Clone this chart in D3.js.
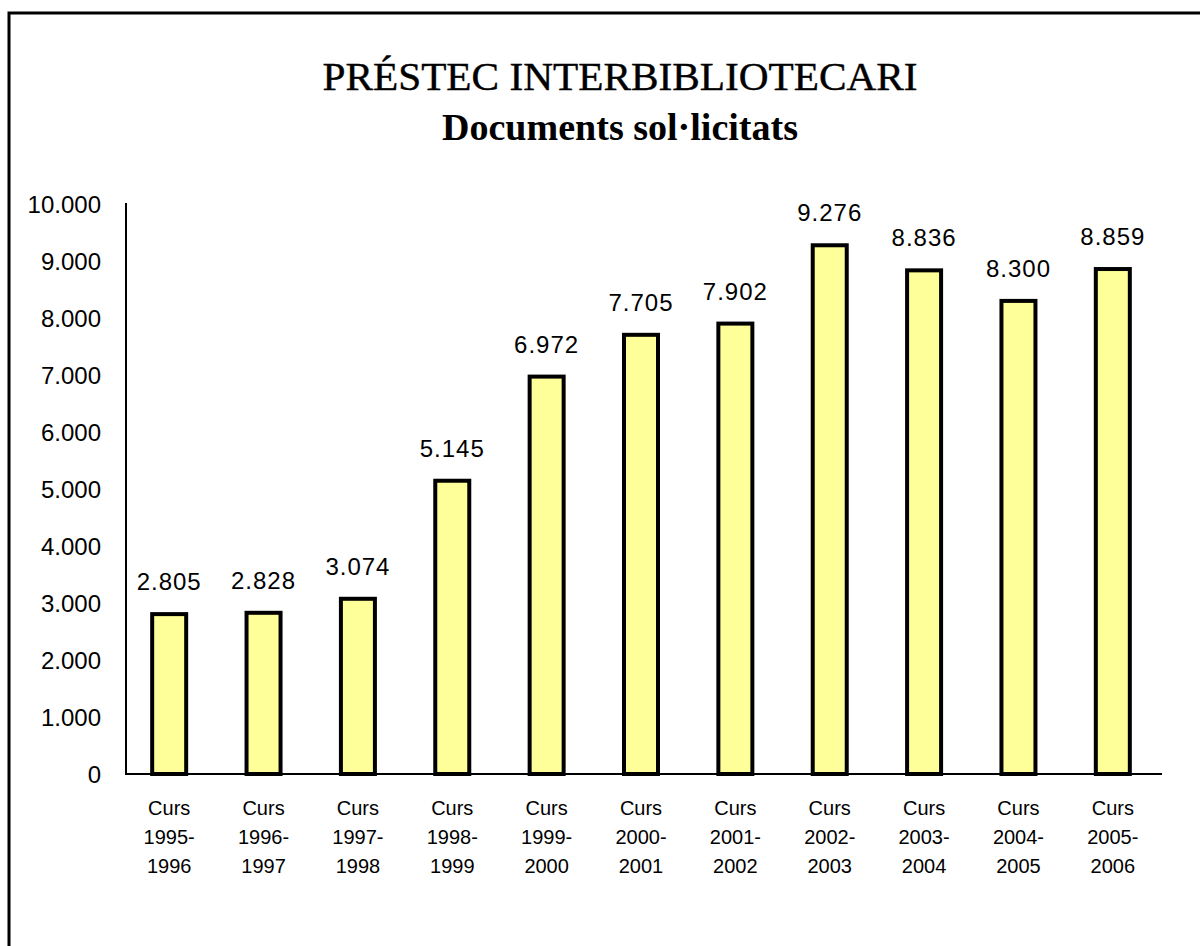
<!DOCTYPE html>
<html>
<head>
<meta charset="utf-8">
<script src="https://cdn.jsdelivr.net/npm/d3@7.9.0/dist/d3.min.js"></script>
<style>
  body { margin: 0; background: #fff; }
  svg { display: block; }
</style>
</head>
<body>
<svg id="chart" width="1200" height="946"></svg>
<script>
// chart data
const courses = ['1995-1996', '1996-1997', '1997-1998', '1998-1999', '1999-2000', '2000-2001',
  '2001-2002', '2002-2003', '2003-2004', '2004-2005', '2005-2006'];
const documents = [2805, 2828, 3074, 5145, 6972, 7705, 7902, 9276, 8836, 8300, 8859];
const yTicks = [0, 1000, 2000, 3000, 4000, 5000, 6000, 7000, 8000, 9000, 10000];

const svg = d3.select('#chart');
const sans = 'Liberation Sans, Arial, sans-serif';
const serif = 'Liberation Serif, Times New Roman, serif';

// thousands with a dot, like the original
const fmt = d => d3.format(',')(d).replace(/,/g, '.');

// frame (only top and left edges show)
svg.append('path')
  .attr('d', 'M9,946 V13 H1200')
  .attr('fill', 'none')
  .attr('stroke', '#000')
  .attr('stroke-width', 3);

// titles
svg.append('text')
  .attr('x', 620).attr('y', 90)
  .attr('text-anchor', 'middle')
  .attr('font-family', serif)
  .attr('font-size', 39)
  .attr('stroke', '#000')
  .attr('stroke-width', 0.4)
  .attr('textLength', 595)
  .attr('lengthAdjust', 'spacingAndGlyphs')
  .text('PRÉSTEC INTERBIBLIOTECARI');

svg.append('text')
  .attr('x', 620).attr('y', 140)
  .attr('text-anchor', 'middle')
  .attr('font-family', serif)
  .attr('font-weight', 'bold')
  .attr('font-size', 37)
  .attr('textLength', 356)
  .attr('lengthAdjust', 'spacingAndGlyphs')
  .text('Documents sol·licitats');

const x = d3.scaleBand()
  .domain(courses)
  .range([122, 1160]);

const y = d3.scaleLinear()
  .domain([0, 10000])
  .range([774, 204]);

const barW = 34;

// y tick labels (no tick marks)
svg.append('g')
  .selectAll('text')
  .data(yTicks)
  .join('text')
  .attr('x', 101)
  .attr('y', d => y(d))
  .attr('dy', '0.36em')
  .attr('text-anchor', 'end')
  .attr('font-family', sans)
  .attr('font-size', 24)
  .text(fmt);

// bars
svg.append('g')
  .selectAll('rect')
  .data(documents)
  .join('rect')
  .attr('x', (d, i) => x(courses[i]) + x.bandwidth() / 2 - barW / 2)
  .attr('y', d => y(d))
  .attr('width', barW)
  .attr('height', d => y(0) - y(d))
  .attr('fill', '#ffff99')
  .attr('stroke', '#000')
  .attr('stroke-width', 4);

// value labels
svg.append('g')
  .selectAll('text')
  .data(documents)
  .join('text')
  .attr('x', (d, i) => x(courses[i]) + x.bandwidth() / 2)
  .attr('y', d => y(d) - 24)
  .attr('text-anchor', 'middle')
  .attr('font-family', sans)
  .attr('font-size', 24)
  .attr('letter-spacing', 1)
  .text(fmt);

// axes lines
svg.append('line')
  .attr('x1', 126).attr('x2', 126)
  .attr('y1', y(10000) - 1).attr('y2', y(0))
  .attr('stroke', '#000').attr('stroke-width', 2);

svg.append('line')
  .attr('x1', 125).attr('x2', 1162)
  .attr('y1', y(0)).attr('y2', y(0))
  .attr('stroke', '#000').attr('stroke-width', 2);

// category labels, three lines each
const lab = svg.append('g')
  .selectAll('text')
  .data(courses)
  .join('text')
  .attr('text-anchor', 'middle')
  .attr('font-family', sans)
  .attr('font-size', 20);

lab.each(function(c) {
  const cx = x(c) + x.bandwidth() / 2;
  const parts = c.split('-');
  const lines = ['Curs', parts[0] + '-', parts[1]];
  d3.select(this).selectAll('tspan')
    .data(lines)
    .join('tspan')
    .attr('x', cx)
    .attr('y', (d, i) => 815 + i * 29)
    .text(d => d);
});
</script>
</body>
</html>
